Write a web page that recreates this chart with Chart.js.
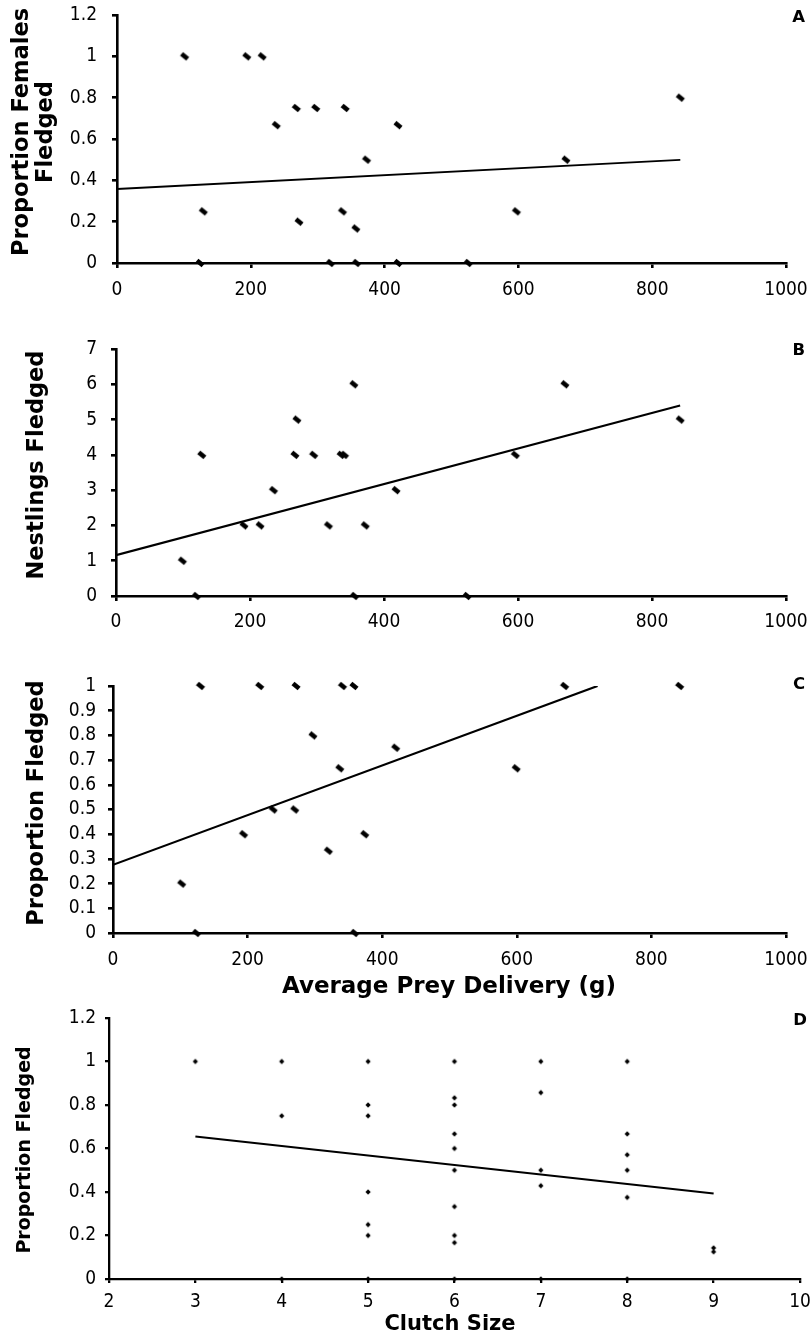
<!DOCTYPE html>
<html>
<head>
<meta charset="utf-8">
<script src="https://cdn.jsdelivr.net/npm/chart.js@4.4.1/dist/chart.umd.min.js"></script>
<style>
  html, body { margin: 0; padding: 0; background: #ffffff; }
  body { width: 811px; height: 1339px; position: relative; overflow: hidden; }
  .panel { position: absolute; left: 0; width: 811px; }
  .panel canvas { display: block; }
</style>
</head>
<body>
<div class="panel" style="top:0px;height:300px"><canvas id="chartA" width="811" height="300"></canvas></div>
<div class="panel" style="top:310px;height:330px"><canvas id="chartB" width="811" height="330"></canvas></div>
<div class="panel" style="top:640px;height:365px"><canvas id="chartC" width="811" height="365"></canvas></div>
<div class="panel" style="top:1005px;height:334px"><canvas id="chartD" width="811" height="334"></canvas></div>
<script>
// ---- Panel A: proportion of females fledged vs average prey delivery (g)
const preyA    = [101, 124, 129, 194, 217, 238, 268, 272, 297, 319, 337, 341, 357, 358, 373, 420, 420, 525, 597, 671, 842];
const femalesA = [1, 0, 0.25, 1, 1, 0.667, 0.75, 0.2, 0.75, 0, 0.25, 0.75, 0.167, 0, 0.5, 0.667, 0, 0, 0.25, 0.5, 0.8];
const trendAX  = [0, 842];
const trendAY  = [0.358, 0.499];

// ---- Panel B: nestlings fledged vs average prey delivery (g)
const preyB      = [99, 120, 128, 191, 215, 235, 267, 270, 295, 317, 336, 341, 355, 356, 372, 418, 524, 596, 670, 842];
const nestlingsB = [1, 0, 4, 2, 2, 3, 4, 5, 4, 2, 4, 4, 6, 0, 2, 3, 0, 4, 6, 5];
const trendBX    = [0, 842];
const trendBY    = [1.16, 5.40];

// ---- Panel C: proportion fledged vs average prey delivery (g)
const preyC     = [102, 124, 130, 194, 218, 238, 270, 272, 297, 320, 337, 341, 358, 359, 374, 420, 599, 671, 842];
const fledgedC  = [0.2, 0, 1, 0.4, 1, 0.5, 0.5, 1, 0.8, 0.333, 0.667, 1, 1, 0, 0.4, 0.75, 0.667, 1, 1];
const trendCX   = [0, 720];
const trendCY   = [0.276, 1.0];

// ---- Panel D: proportion fledged vs clutch size
const clutchD   = [3, 4, 4, 4, 5, 5, 5, 5, 5, 5, 5, 6, 6, 6, 6, 6, 6, 6, 6, 6, 6, 7, 7, 7, 7, 7, 8, 8, 8, 8, 8, 8, 9, 9];
const fledgedD  = [1, 1, 0.75, 0, 1, 0.8, 0.75, 0.4, 0.25, 0.2, 0, 1, 0.833, 0.8, 0.667, 0.6, 0.5, 0.333, 0.2, 0.167, 0,
                   1, 0.857, 0.5, 0.429, 0, 1, 0.667, 0.571, 0.5, 0.375, 0, 0.143, 0.125];
const trendDX   = [3, 9];
const trendDY   = [0.655, 0.393];

// ---- Axis tick ranges
const preyTicks   = { min: 0, max: 1000, step: 200 };
const clutchTicks = { min: 2, max: 10, step: 1 };
const yTicksA = { min: 0, max: 1.2, step: 0.2 };
const yTicksB = { min: 0, max: 7, step: 1 };
const yTicksC = { min: 0, max: 1, step: 0.1 };
const yTicksD = { min: 0, max: 1.2, step: 0.2 };

// ---- Text
const titlesA = ['Proportion Females', 'Fledged'];
const titleB  = 'Nestlings Fledged';
const titleC  = 'Proportion Fledged';
const titleD  = 'Proportion Fledged';
const xTitlePrey   = 'Average Prey Delivery (g)';
const xTitleClutch = 'Clutch Size';

const TICK_FONT = "'DejaVu Sans Condensed', 'DejaVu Sans', sans-serif";
const TITLE_FONT = "'DejaVu Sans', sans-serif";

// slanted diamond marker used in the prey-delivery panels
function slantMarker(len, wid, deg) {
  const s = 12;
  const c = document.createElement('canvas');
  c.width = s; c.height = s;
  const g = c.getContext('2d');
  g.translate(s / 2, s / 2);
  g.rotate(deg * Math.PI / 180);
  g.fillStyle = '#000';
  g.fillRect(-len / 2, -wid / 2, len, wid);
  return c;
}
// small diamond marker used in the clutch-size panel
function diamondMarker(hw, hh) {
  const s = 8;
  const c = document.createElement('canvas');
  c.width = s; c.height = s;
  const g = c.getContext('2d');
  const cx = s / 2, cy = s / 2;
  g.fillStyle = '#000';
  g.beginPath();
  g.moveTo(cx, cy - hh); g.lineTo(cx + hw, cy); g.lineTo(cx, cy + hh); g.lineTo(cx - hw, cy);
  g.closePath(); g.fill();
  return c;
}
const bigMarker = slantMarker(8, 4.6, 40);
const smallMarker = diamondMarker(2.6, 2.8);

function toPoints(xs, ys) { return xs.map((x, i) => ({ x: x, y: ys[i] })); }

function fmt(v) { return String(Math.round(v * 1000) / 1000); }

// free-placed text: axis titles and the panel letter
const panelText = {
  id: 'panelText',
  afterDraw(chart, args, opts) {
    const ctx = chart.ctx;
    (opts.items || []).forEach(it => {
      ctx.save();
      ctx.font = it.font;
      ctx.fillStyle = '#000';
      ctx.textAlign = it.align || 'center';
      ctx.textBaseline = 'middle';
      ctx.translate(it.x, it.y);
      if (it.rotate) ctx.rotate(it.rotate);
      ctx.fillText(it.text, 0, 0);
      ctx.restore();
    });
  }
};

function axis(t, o) {
  return {
    type: 'linear',
    position: o.position,
    min: t.min, max: t.max,
    z: 1,
    border: { display: true, color: '#000', width: o.lineW },
    grid: { display: true, drawOnChartArea: false, drawTicks: true, tickLength: o.tickLen,
            color: '#000', lineWidth: o.lineW, tickColor: '#000', tickWidth: o.lineW },
    ticks: { stepSize: t.step, autoSkip: false, maxRotation: 0, padding: o.pad, color: '#000',
             font: { family: TICK_FONT, size: o.fontSize }, callback: fmt },
    afterFit: o.fit
  };
}

// fixed axis box sizes; tick labels may overhang into the layout padding
function fixSize(prop, val) {
  return s => {
    s[prop] = val;
    s.paddingTop = 0; s.paddingBottom = 0; s.paddingLeft = 0; s.paddingRight = 0;
  };
}

function makePanel(id, cfg) {
  const datasets = [
    { data: toPoints(cfg.xs, cfg.ys), pointStyle: cfg.marker, pointRadius: 4, showLine: false, clip: false },
    { data: toPoints(cfg.tx, cfg.ty), showLine: true, pointRadius: 0, borderColor: '#000',
      borderWidth: cfg.trendW, fill: false, tension: 0 }
  ];
  return new Chart(document.getElementById(id), {
    type: 'scatter',
    data: { datasets },
    options: {
      responsive: false,
      animation: false,
      events: [],
      layout: { padding: { top: cfg.top, right: cfg.right, bottom: 0, left: 0 } },
      scales: {
        x: axis(cfg.xt, { position: 'bottom', lineW: cfg.axisW, tickLen: cfg.tickLen, pad: cfg.xPad,
                          fontSize: cfg.tickSize, fit: fixSize('height', cfg.xH) }),
        y: axis(cfg.yt, { position: 'left', lineW: cfg.axisW, tickLen: cfg.tickLen, pad: cfg.yPad,
                          fontSize: cfg.tickSize, fit: fixSize('width', cfg.yW) })
      },
      plugins: { legend: { display: false }, tooltip: { enabled: false }, panelText: { items: cfg.text } }
    },
    plugins: [panelText]
  });
}

const yTitleFont = 'bold 22.5px ' + TITLE_FONT;
const letterFont = 'bold 16.5px ' + TITLE_FONT;
const R = -Math.PI / 2;

makePanel('chartA', {
  xs: preyA, ys: femalesA, tx: trendAX, ty: trendAY, marker: bigMarker, trendW: 1.8,
  xt: preyTicks, yt: yTicksA, top: 15, right: 25, xH: 37, yW: 117,
  axisW: 2.6, tickLen: 5, xPad: 11, yPad: 15, tickSize: 19,
  text: [
    { text: titlesA[0], x: 22.5, y: 132, rotate: R, font: yTitleFont },
    { text: titlesA[1], x: 46, y: 132, rotate: R, font: yTitleFont },
    { text: 'A', x: 805, y: 17.5, align: 'right', font: letterFont }
  ]
});

makePanel('chartB', {
  xs: preyB, ys: nestlingsB, tx: trendBX, ty: trendBY, marker: bigMarker, trendW: 2.2,
  xt: preyTicks, yt: yTicksB, top: 39, right: 25, xH: 44, yW: 116,
  axisW: 2.6, tickLen: 5, xPad: 10, yPad: 14, tickSize: 19,
  text: [
    { text: titleB, x: 37, y: 155, rotate: R, font: yTitleFont },
    { text: 'B', x: 805, y: 41, align: 'right', font: letterFont }
  ]
});

makePanel('chartC', {
  xs: preyC, ys: fledgedC, tx: trendCX, ty: trendCY, marker: bigMarker, trendW: 2.2,
  xt: preyTicks, yt: yTicksC, top: 46, right: 25, xH: 72, yW: 113,
  axisW: 2.6, tickLen: 5, xPad: 11, yPad: 12, tickSize: 19,
  text: [
    { text: titleC, x: 37, y: 163, rotate: R, font: yTitleFont },
    { text: xTitlePrey, x: 449, y: 347, font: 'bold 23px ' + TITLE_FONT },
    { text: 'C', x: 805, y: 44.5, align: 'right', font: letterFont }
  ]
});

makePanel('chartD', {
  xs: clutchD, ys: fledgedD, tx: trendDX, ty: trendDY, marker: smallMarker, trendW: 2,
  xt: clutchTicks, yt: yTicksD, top: 13, right: 11, xH: 60, yW: 109,
  axisW: 2.3, tickLen: 4, xPad: 8, yPad: 9, tickSize: 19,
  text: [
    { text: titleD, x: 25.4, y: 145, rotate: R, font: 'bold 19px ' + TITLE_FONT },
    { text: xTitleClutch, x: 450, y: 320, font: 'bold 21px ' + TITLE_FONT },
    { text: 'D', x: 807, y: 16, align: 'right', font: letterFont }
  ]
});
</script>
</body>
</html>
